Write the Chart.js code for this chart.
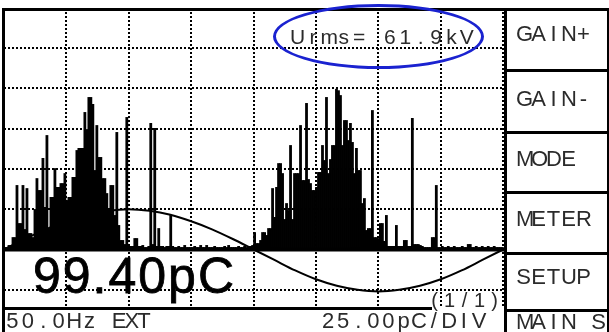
<!DOCTYPE html>
<html>
<head>
<meta charset="utf-8">
<script src="https://cdn.jsdelivr.net/npm/chart.js@4.4.1/dist/chart.umd.min.js"></script>
<style>
  html, body { margin: 0; padding: 0; background: #fff; }
  #screen { position: relative; width: 609px; height: 332px; overflow: hidden; background: #fff; }
  #plot { position: absolute; left: 0; top: 0; }
  .rule { position: absolute; background: #000; }
  .txt { position: absolute; white-space: pre; font-family: "Liberation Sans", Arial, sans-serif; color: #2b2b2b; }
  .txt span { display: inline-block; text-align: center; }
  #peak { position: absolute; white-space: pre; font-family: "Liberation Sans", Arial, sans-serif; color: #000;
          font-size: 50px; line-height: 50px; letter-spacing: 2px; -webkit-text-stroke: 0.8px #000; }
  #ring { position: absolute; box-sizing: border-box; border: 3.5px solid #1a22d0; border-radius: 50%; }
</style>
</head>
<body>
<div id="screen">
  <canvas id="plot" width="609" height="332"></canvas>
</div>
<script>
// Phase-resolved discharge magnitude, one value per phase bin (pC), 250 bins over 0..360 deg
const pulseMagnitude = [
  1.2, 1.2, 2.5, 2.5, 7.4, 7.4, 39.7, 16.1, 16.1, 39.7,
  12.4, 37.8, 9.9, 9.9, 7.4, 24.8, 44.0, 36.6, 36.6, 56.5,
  26.1, 70.7, 13.0, 32.3, 32.3, 50.2, 38.5, 38.5, 40.9, 40.9,
  47.1, 30.4, 32.3, 32.3, 44.7, 44.7, 61.4, 62.7, 62.7, 62.7,
  85.0, 74.4, 94.3, 94.3, 90.0, 49.0, 76.9, 57.1, 57.1, 44.0,
  44.0, 34.7, 24.8, 39.7, 39.7, 21.1, 72.6, 14.9, 5.6, 5.6,
  3.1, 81.9, 1.9, 1.9, 1.9, 6.8, 6.8, 1.9, 1.9, 2.5,
  1.2, 1.2, 1.9, 78.2, 3.1, 75.1, 1.9, 13.0, 1.9, 1.9,
  1.2, 1.9, 1.9, 21.1, 1.9, 1.2, 1.2, 1.9, 1.2, 1.2,
  2.5, 1.2, 1.2, 1.2, 1.2, 1.9, 1.2, 1.2, 2.5, 1.2,
  1.2, 2.5, 1.2, 1.2, 1.2, 1.9, 1.2, 1.2, 1.2, 1.2,
  1.9, 1.2, 2.5, 1.2, 1.2, 1.2, 1.2, 1.9, 1.2, 1.2,
  1.9, 1.2, 1.9, 1.9, 2.5, 10.5, 3.7, 3.7, 5.6, 10.5,
  10.5, 8.7, 13.0, 13.0, 37.8, 19.9, 38.5, 53.3, 53.3, 47.1,
  18.6, 28.5, 24.2, 64.5, 18.6, 47.1, 47.1, 47.1, 76.9, 42.8,
  42.8, 90.6, 43.4, 40.9, 36.6, 36.6, 38.5, 47.8, 47.8, 64.5,
  55.2, 94.3, 47.1, 55.8, 64.5, 64.5, 99.4, 98.5, 95.5, 64.5,
  80.0, 80.0, 67.6, 78.2, 66.4, 47.1, 62.7, 49.0, 49.0, 28.5,
  31.6, 11.8, 13.0, 13.0, 86.2, 7.4, 7.4, 6.8, 16.1, 16.1,
  5.0, 21.1, 1.9, 1.9, 1.9, 1.9, 14.9, 1.9, 1.9, 1.9,
  5.6, 5.6, 1.9, 1.9, 81.3, 3.1, 3.1, 3.1, 2.5, 1.9,
  1.2, 1.2, 1.2, 1.2, 7.4, 7.4, 39.7, 1.2, 1.2, 1.9,
  1.2, 1.2, 1.9, 1.2, 1.2, 1.9, 1.2, 1.2, 1.2, 1.9,
  1.2, 1.2, 3.1, 3.1, 1.2, 1.2, 1.9, 1.2, 1.2, 1.9,
  1.2, 1.2, 1.9, 1.2, 1.2, 1.9, 1.2, 1.2, 1.2, 1.2
];

// Supply voltage reference trace: phase (deg) and drawn level (pC units of the screen)
const refWavePhase = [0, 15, 30, 45, 60, 75, 90, 105, 120, 135, 150, 165, 180,
                      195, 210, 225, 240, 255, 270, 285, 300, 315, 330, 345, 360];
const refWaveLevel = [0, 6.5, 12.5, 17.5, 21.5, 24, 25, 24, 21.5, 17.5, 12.5, 6.5, 0,
                      -6.5, -13, -18.5, -22.5, -25, -26, -25, -22.5, -18.5, -13, -6.5, 0];

// Zero-charge reference level
const baselineLevel = 0;

// Division marks: 45 deg per horizontal division, 25 pC per vertical division
const phaseGridDeg = [45, 90, 135, 180, 225, 270, 315, 360];
const chargeGridPc = [-25, 0, 25, 50, 75, 100, 125];

// Readouts
const peakReadout = "99.40pC";
const rmsReadout = "Urms= 61.9kV";
const lineInfo = "50.0Hz EXT";
const scaleInfo = "25.00pC/DIV";
const pageInfo = "(1/1)";
const menuLabels = ["GAIN+", "GAIN-", "MODE", "METER", "SETUP", "MAIN S"];

const PHASE_MAX = 361.3;
const binDeg = 360 / pulseMagnitude.length;
const barPts = pulseMagnitude.map((v, i) => ({ x: (i + 0.5) * binDeg, y: v }));
const wavePts = refWavePhase.map((p, i) => ({ x: p, y: refWaveLevel[i] }));
const basePts = [{ x: 0, y: baselineLevel }, { x: PHASE_MAX, y: baselineLevel }];

const gridStyle = { color: '#000', lineWidth: 2, drawTicks: false, offset: false };

new Chart(document.getElementById('plot'), {
  type: 'bar',
  data: {
    datasets: [
      { type: 'line', data: basePts, borderColor: '#000', borderWidth: 4, pointRadius: 0, order: 1 },
      { type: 'line', data: wavePts, borderColor: '#000', borderWidth: 2, pointRadius: 0,
        cubicInterpolationMode: 'monotone', order: 1 },
      { type: 'bar', data: barPts, backgroundColor: '#000', borderWidth: 0,
        barPercentage: 1, categoryPercentage: 1, inflateAmount: 0.4, order: 2 }
    ]
  },
  options: {
    responsive: false,
    devicePixelRatio: 1,
    animation: false,
    layout: { padding: { left: 4, top: 8, right: 104, bottom: 24 } },
    plugins: { legend: { display: false }, tooltip: { enabled: false } },
    scales: {
      x: {
        type: 'linear', min: 0, max: PHASE_MAX, offset: false,
        ticks: { display: false },
        grid: gridStyle,
        border: { display: false, dash: [2, 2] },
        afterBuildTicks: s => { s.ticks = phaseGridDeg.map(v => ({ value: v })); }
      },
      y: {
        type: 'linear', min: -36.3, max: 149.8,
        ticks: { display: false },
        grid: gridStyle,
        border: { display: false, dash: [2, 2] },
        afterBuildTicks: s => { s.ticks = chargeGridPc.map(v => ({ value: v })); }
      }
    }
  }
});

// ---- screen furniture: frame, soft-key boxes, status strip ----
const screen = document.getElementById('screen');
function rule(l, t, w, h) {
  const d = document.createElement('div');
  d.className = 'rule';
  Object.assign(d.style, { left: l + 'px', top: t + 'px', width: w + 'px', height: h + 'px' });
  screen.appendChild(d);
}
rule(2, 8, 607, 3);      // top frame
rule(2, 8, 3, 324);      // left frame
rule(2, 307, 430, 3);    // status strip divider
rule(504, 8, 3, 324);    // soft-key column edge
rule(607, 8, 2, 324);    // right edge
[69, 131, 191, 252, 309].forEach(t => rule(504, t, 105, 3));

// Text laid out in fixed character cells (glyph centred in each cell), like the LCD font.
// `cells` is either one width for every character or a list of widths.
function cellText(str, left, baseline, size, cells) {
  const d = document.createElement('div');
  d.className = 'txt';
  d.style.left = left + 'px';
  d.style.top = (baseline - size * 0.8465) + 'px';
  d.style.fontSize = size + 'px';
  d.style.lineHeight = size + 'px';
  [...str].forEach((ch, i) => {
    const s = document.createElement('span');
    s.textContent = ch;
    s.style.width = (Array.isArray(cells) ? cells[i] : cells) + 'px';
    d.appendChild(s);
  });
  screen.appendChild(d);
}

cellText(rmsReadout, 289.8, 43.4, 21, 15.4);
const menuBaselines = [41.5, 106.5, 166.7, 226.7, 284.5, 329.8];
menuLabels.forEach((m, i) => cellText(m, 516, menuBaselines[i], 22, 15));
cellText(lineInfo, 4.8, 328.5, 22, [15.4, 15.4, 15.4, 15.4, 15.4, 15.4, 14.5, 12.75, 12.75, 12.75]);
cellText(scaleInfo, 320.5, 328.5, 22, 15.1);
cellText(pageInfo, 427, 307, 20, 15);

const peak = document.createElement('div');
peak.id = 'peak';
peak.textContent = peakReadout;
peak.style.left = '33px';
peak.style.top = (293 - 50 * 0.8465) + 'px';
screen.appendChild(peak);

const ring = document.createElement('div');
ring.id = 'ring';
Object.assign(ring.style, { left: '273px', top: '4px', width: '211px', height: '65px' });
screen.appendChild(ring);
</script>
</body>
</html>
